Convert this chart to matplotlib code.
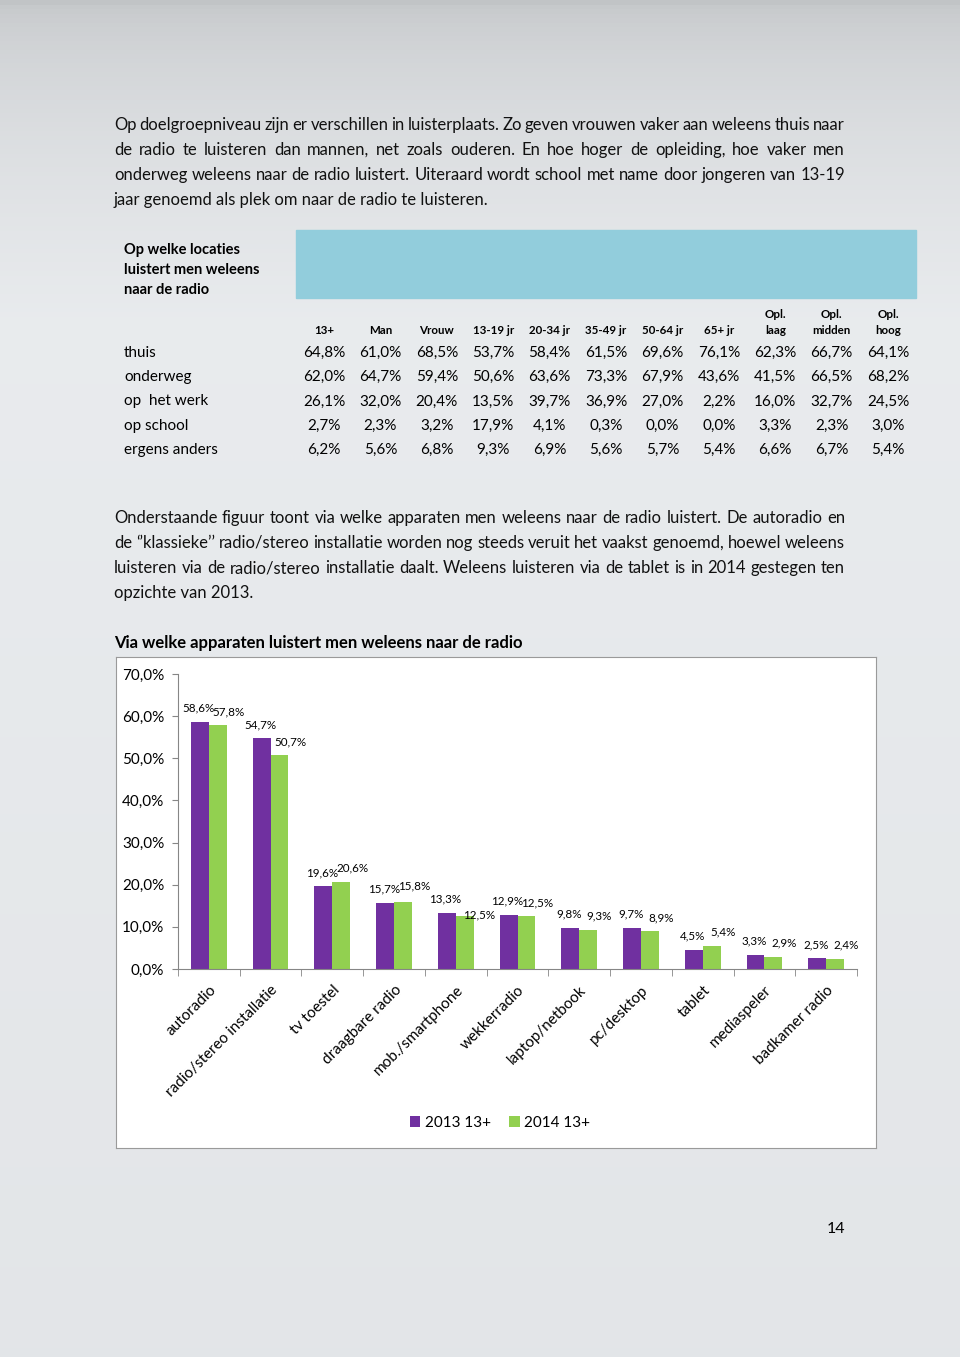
import numpy as np
import matplotlib.pyplot as plt
from matplotlib.patches import Rectangle

plt.rcParams['font.family'] = ['Lato', 'DejaVu Sans']

W, H = 960, 1357

# text of the page
para1 = ["Op doelgroepniveau zijn er verschillen in luisterplaats. Zo geven vrouwen vaker aan weleens thuis naar",
         "de radio te luisteren dan mannen, net zoals ouderen.  En hoe hoger de opleiding, hoe vaker men",
         "onderweg weleens naar de radio luistert. Uiteraard wordt school met name door jongeren van 13-19",
         "jaar genoemd als plek om naar de radio te luisteren."]
para2 = ["Onderstaande figuur toont via welke apparaten men weleens naar de radio luistert. De autoradio en",
         "de \u2018\u2019klassieke\u2019\u2019 radio/stereo installatie worden nog steeds veruit het vaakst genoemd, hoewel weleens",
         "luisteren via de radio/stereo installatie daalt. Weleens luisteren via de tablet is in 2014 gestegen ten",
         "opzichte van 2013."]

# table data
table_title = ["Op welke locaties", "luistert men weleens", "naar de radio"]
col_top = ["", "", "", "", "", "", "", "", "Opl.", "Opl.", "Opl."]
col_bottom = ["13+", "Man", "Vrouw", "13-19 jr", "20-34 jr", "35-49 jr", "50-64 jr", "65+ jr", "laag", "midden", "hoog"]
row_names = ["thuis", "onderweg", "op  het werk", "op school", "ergens anders"]
thuis = [64.8, 61.0, 68.5, 53.7, 58.4, 61.5, 69.6, 76.1, 62.3, 66.7, 64.1]
onderweg = [62.0, 64.7, 59.4, 50.6, 63.6, 73.3, 67.9, 43.6, 41.5, 66.5, 68.2]
werk = [26.1, 32.0, 20.4, 13.5, 39.7, 36.9, 27.0, 2.2, 16.0, 32.7, 24.5]
school = [2.7, 2.3, 3.2, 17.9, 4.1, 0.3, 0.0, 0.0, 3.3, 2.3, 3.0]
anders = [6.2, 5.6, 6.8, 9.3, 6.9, 5.6, 5.7, 5.4, 6.6, 6.7, 5.4]
table_rows = [thuis, onderweg, werk, school, anders]

# chart data
devices = ['autoradio', 'radio/stereo installatie', 'tv toestel', 'draagbare radio',
           'mob./smartphone', 'wekkerradio', 'laptop/netbook', 'pc/desktop',
           'tablet', 'mediaspeler', 'badkamer radio']
v2013 = [58.6, 54.7, 19.6, 15.7, 13.3, 12.9, 9.8, 9.7, 4.5, 3.3, 2.5]
v2014 = [57.8, 50.7, 20.6, 15.8, 12.5, 12.5, 9.3, 8.9, 5.4, 2.9, 2.4]
series_names = ['2013 13+', '2014 13+']
purple = '#7030A0'
green = '#92D050'


def pct(v):
    return f"{v:.1f}".replace('.', ',') + '%'


def fx(x):
    return x / W


def fy(y):
    return 1 - y / H


fig = plt.figure(figsize=(W / 100, H / 100), dpi=100)

# grey page background
bg = fig.add_axes([0, 0, 1, 1], zorder=-10)
yy = np.linspace(0, 1, 300)[:, None]
shade = np.clip(0.76 + 0.22 * np.sqrt(yy / 0.45), 0, 0.92) - 0.03 * yy
img = np.dstack([shade, shade + 0.01, shade + 0.02])
bg.imshow(np.clip(img, 0, 1) * np.ones((1, 10, 1)), aspect='auto', extent=[0, 1, 0, 1])
bg.axis('off')

renderer = fig.canvas.get_renderer()


def justified(lines, x0, x1, y0, dy, size):
    for i, line in enumerate(lines):
        y = y0 + i * dy
        if i == len(lines) - 1:
            fig.text(fx(x0), fy(y), line, fontsize=size, va='center', color='#111111')
            continue
        words = line.split()
        texts = [fig.text(0, 0, w, fontsize=size, va='center', color='#111111') for w in words]
        widths = [t.get_window_extent(renderer).width for t in texts]
        gap = (x1 - x0 - sum(widths)) / (len(words) - 1)
        x = x0
        for t, w in zip(texts, widths):
            t.set_position((fx(x), fy(y)))
            x += w + gap


justified(para1, 114, 845, 125, 25, 12)
justified(para2, 114, 845, 518, 25, 12)

# table
fig.patches.append(Rectangle((fx(296), fy(298)), fx(916) - fx(296), fy(230) - fy(298),
                             transform=fig.transFigure, color='#92CDDC', zorder=1))
for i, t in enumerate(table_title):
    fig.text(fx(124), fy(250 + 20 * i), t, fontsize=10.5, fontweight='bold', va='center')
col_x = [324 + 56.4 * i for i in range(len(col_bottom))]
for x, top, bot in zip(col_x, col_top, col_bottom):
    fig.text(fx(x), fy(331), bot, fontsize=8.3, fontweight='bold', ha='center', va='center')
    if top:
        fig.text(fx(x), fy(315), top, fontsize=8.3, fontweight='bold', ha='center', va='center')
for r, (name, vals) in enumerate(zip(row_names, table_rows)):
    y = 353 + 24.2 * r
    fig.text(fx(124), fy(y), name, fontsize=11, va='center')
    for x, v in zip(col_x, vals):
        fig.text(fx(x), fy(y), pct(v), fontsize=11, ha='center', va='center')

# chart
fig.text(fx(114), fy(643), 'Via welke apparaten luistert men weleens naar de radio',
         fontsize=12, fontweight='bold', va='center')
box = fig.add_axes([fx(116), fy(1148), fx(876) - fx(116), fy(657) - fy(1148)], zorder=0)
box.set_xticks([])
box.set_yticks([])
for s in box.spines.values():
    s.set_color('#9a9a9a')

ax = fig.add_axes([fx(178), fy(969), fx(857) - fx(178), fy(674) - fy(969)], zorder=1)
ax.patch.set_alpha(0)
x = np.arange(len(devices))
bw = 0.29
ax.bar(x - bw / 2, v2013, bw, color=purple, label=series_names[0])
ax.bar(x + bw / 2, v2014, bw, color=green, label=series_names[1])
ax.set_xlim(-0.5, len(devices) - 0.5)
ax.set_ylim(0, 70)

lab13, lab14 = [], []
for i in range(len(devices)):
    lab13.append(ax.annotate(pct(v2013[i]), (x[i] - bw / 2, v2013[i]), xytext=(-1, 10),
                             textcoords='offset points', ha='center', va='center', fontsize=8.4))
    lab14.append(ax.annotate(pct(v2014[i]), (x[i] + bw / 2, v2014[i]), xytext=(8, 10),
                             textcoords='offset points', ha='center', va='center', fontsize=8.4))

ax.set_yticks(np.arange(0, 71, 10))
ax.set_yticklabels([pct(v) for v in np.arange(0, 71, 10)], fontsize=11)
ax.set_xticks(x)
ax.set_xticklabels(devices, rotation=45, ha='right', rotation_mode='anchor', fontsize=11)
ax.set_xticks(np.arange(-0.5, len(devices)), minor=True)
ax.tick_params(axis='x', which='major', length=0, pad=10)
ax.tick_params(axis='x', which='minor', length=5, color='#868686')
ax.tick_params(axis='y', length=4, color='#868686', pad=6)
for s in ['top', 'right']:
    ax.spines[s].set_visible(False)
for s in ['left', 'bottom']:
    ax.spines[s].set_color('#868686')

fig.legend(loc='center', bbox_to_anchor=(fx(500), fy(1123)), ncol=2, frameon=False,
           fontsize=11, handlelength=0.7, handleheight=0.7, handletextpad=0.3, columnspacing=1.2)

fig.text(fx(836), fy(1229), '14', fontsize=11.5, ha='center', va='center')

# sort out green labels that run into the next purple label:
# same height -> drop the green one, different height -> lift the green one clear
fig.canvas.draw()
for i in range(len(devices) - 1):
    g = lab14[i].get_window_extent(renderer)
    p = lab13[i + 1].get_window_extent(renderer)
    if not g.overlaps(p):
        continue
    if abs(g.y0 - p.y0) < 6:
        lab14[i].set_position((10, 1))
    else:
        lift = (p.y1 - g.y0 + 2) * 72 / 100
        lab14[i].set_position((8, 10 + lift))

fig.savefig('out.png', dpi=100)
